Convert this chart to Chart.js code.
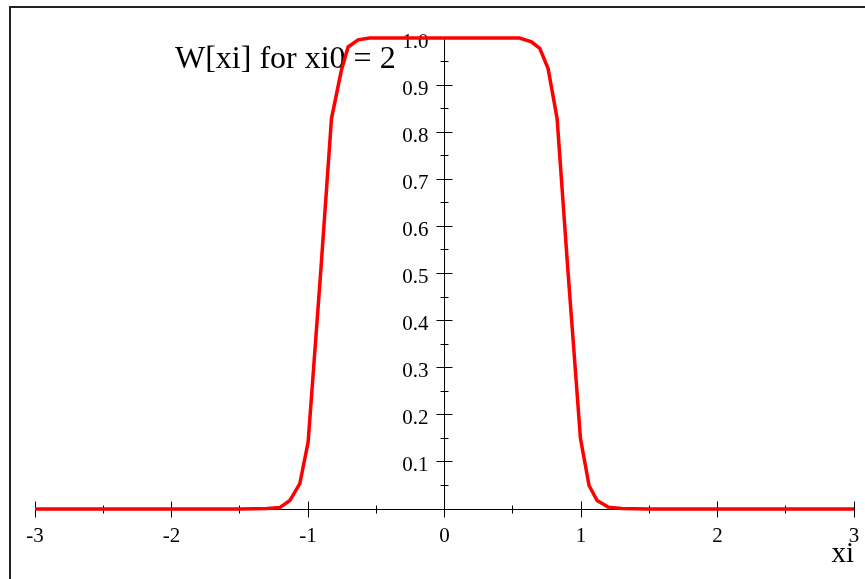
<!DOCTYPE html>
<html>
<head>
<meta charset="utf-8">
<title>W[xi] for xi0 = 2</title>
<script src="https://cdn.jsdelivr.net/npm/chart.js@4.4.1/dist/chart.umd.min.js"></script>
<style>
  html, body { margin: 0; padding: 0; background: #fff; }
  canvas { display: block; }
</style>
</head>
<body>
<canvas id="plot" width="865" height="579"></canvas>
<script>
// curve samples
const xi = [-3, -2.5, -2, -1.5, -1.3, -1.207, -1.133, -1.06, -0.999, -0.906, -0.828, -0.755, -0.706, -0.633, -0.55,
            0, 0.55, 0.637, 0.698, 0.759, 0.825, 0.904, 0.996, 1.059, 1.118, 1.199, 1.297, 1.5, 2, 2.5, 3];
const w  = [0, 0, 0, 0, 0.001, 0.003, 0.018, 0.054, 0.142, 0.507, 0.829, 0.932, 0.981, 0.996, 1.0,
            1.0, 1.0, 0.992, 0.978, 0.935, 0.829, 0.507, 0.15, 0.05, 0.018, 0.004, 0.001, 0, 0, 0, 0];

const xTicks = [-3, -2, -1, 0, 1, 2, 3];
const xMinorTicks = [-2.5, -1.5, -0.5, 0.5, 1.5, 2.5];
const yTicks = [0.1, 0.2, 0.3, 0.4, 0.5, 0.6, 0.7, 0.8, 0.9, 1.0];
const yTickLabels = ['0.1', '0.2', '0.3', '0.4', '0.5', '0.6', '0.7', '0.8', '0.9', '1.0'];
const yMinorTicks = [0.05, 0.15, 0.25, 0.35, 0.45, 0.55, 0.65, 0.75, 0.85, 0.95];

const plotTitle = 'W[xi] for xi0 = 2';
const xAxisLabel = 'xi';

const serif = '"Liberation Serif", "Times New Roman", serif';

// Maple style axes: crossing at the origin, ticks on both sides of the line
const mapleAxes = {
  id: 'mapleAxes',
  beforeDatasetsDraw(chart) {
    const { ctx, scales: { x, y } } = chart;
    const x0 = Math.floor(x.getPixelForValue(0)) + 0.5;
    const y0 = Math.floor(y.getPixelForValue(0)) + 0.5;

    ctx.save();

    // frame round the whole plot (only top and left are in view)
    ctx.strokeStyle = '#222';
    ctx.lineWidth = 2;
    ctx.strokeRect(10, 7, 2000, 2000);

    ctx.strokeStyle = '#000';
    ctx.lineWidth = 1;
    ctx.beginPath();
    ctx.moveTo(x.getPixelForValue(-3), y0);
    ctx.lineTo(x.getPixelForValue(3), y0);
    ctx.moveTo(x0, y0);
    ctx.lineTo(x0, y.getPixelForValue(1));

    xTicks.forEach(v => {
      const px = Math.floor(x.getPixelForValue(v)) + 0.5;
      ctx.moveTo(px, y0 - 8);
      ctx.lineTo(px, y0 + 8);
    });
    xMinorTicks.forEach(v => {
      const px = Math.floor(x.getPixelForValue(v)) + 0.5;
      ctx.moveTo(px, y0 - 4);
      ctx.lineTo(px, y0 + 4);
    });
    yTicks.forEach(v => {
      const py = Math.floor(y.getPixelForValue(v)) + 0.5;
      ctx.moveTo(x0 - 8, py);
      ctx.lineTo(x0 + 8, py);
    });
    yMinorTicks.forEach(v => {
      const py = Math.floor(y.getPixelForValue(v)) + 0.5;
      ctx.moveTo(x0 - 4, py);
      ctx.lineTo(x0 + 4, py);
    });
    ctx.stroke();

    ctx.fillStyle = '#000';
    ctx.font = '21px ' + serif;
    ctx.textBaseline = 'alphabetic';
    ctx.textAlign = 'center';
    xTicks.forEach(v => {
      ctx.fillText(String(v), x.getPixelForValue(v), y0 + 32);
    });
    ctx.textAlign = 'right';
    yTicks.forEach((v, i) => {
      ctx.fillText(yTickLabels[i], x0 - 16, y.getPixelForValue(v) + 9.5);
    });

    ctx.textAlign = 'left';
    ctx.font = '32px ' + serif;
    ctx.fillText(plotTitle, 175, 68);

    ctx.textAlign = 'right';
    ctx.font = '29px ' + serif;
    ctx.fillText(xAxisLabel, 854, 562);

    ctx.restore();
  }
};

new Chart(document.getElementById('plot'), {
  type: 'scatter',
  data: {
    datasets: [{
      data: xi.map((v, i) => ({ x: v, y: w[i] })),
      showLine: true,
      borderColor: '#ff0000',
      borderWidth: 3.5,
      pointRadius: 0,
      tension: 0,
      clip: false
    }]
  },
  options: {
    responsive: false,
    devicePixelRatio: 1,
    animation: false,
    events: [],
    layout: { padding: { left: 35, right: 11, top: 38, bottom: 70 } },
    scales: {
      x: { type: 'linear', min: -3, max: 3, display: false },
      y: { type: 'linear', min: 0, max: 1, display: false }
    },
    plugins: {
      legend: { display: false },
      tooltip: { enabled: false }
    }
  },
  plugins: [mapleAxes]
});
</script>
</body>
</html>
